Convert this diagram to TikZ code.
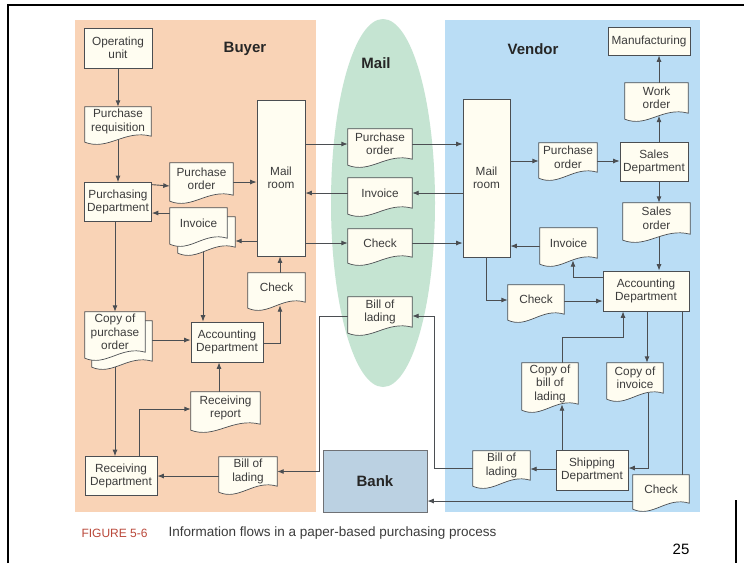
\documentclass[tikz,border=0pt]{standalone}
\usepackage{fontspec}
\setmainfont{Liberation Sans}
\usepackage{tikz}
\usepackage{xcolor}
\usetikzlibrary{positioning, arrows.meta, calc}
\definecolor{buyerbg}{RGB}{249, 211, 182}
\definecolor{vendorbg}{RGB}{186, 221, 245}
\definecolor{mailbg}{RGB}{197, 228, 210}
\definecolor{paper}{RGB}{255, 253, 241}
\definecolor{edgeclr}{RGB}{75, 78, 82}
\definecolor{ink}{RGB}{60, 60, 60}
\definecolor{bankbg}{RGB}{187, 209, 226}
\definecolor{capred}{RGB}{186, 72, 58}
\pgfdeclarelayer{regions}
\pgfdeclarelayer{background}
\pgfsetlayers{regions,background,main}
% outline of a paper sheet with a wavy lower edge, shifted by (#2,#3)
\newcommand{\docpath}[3]{($(#1.north west)+(#2,#3)$) -- ($(#1.north east)+(#2,#3)$)
  -- ($(#1.south east)+(#2,#3)$)
  .. controls ($(#1.south west)!0.6!(#1.south east)+(#2,#3-7)$)
  and ($(#1.south west)!0.35!(#1.south east)+(#2,#3+15)$)
  .. ($(#1.south west)+(#2,#3+6)$) -- cycle}
\tikzset{
    lbl/.style={font=\fontsize{11.8}{13.5}\selectfont, text=ink, align=center},
    box/.style={lbl, rectangle, draw=edgeclr, fill=paper, line width=0.7pt, inner sep=0.5pt},
    doc/.style={lbl, rectangle, inner sep=0.5pt},
    sheet/.style={draw=edgeclr, fill=paper, line width=0.7pt},
    wh/.style 2 args={minimum width=#1pt, minimum height=#2pt},
    flow/.style={draw=edgeclr, line width=0.9pt, -{Latex[length=6.5pt, width=5pt]}},
    link/.style={draw=edgeclr, line width=0.9pt},
    title/.style={font=\fontsize{15}{17}\selectfont\bfseries, text=black!85}
}

\begin{document}
\begin{tikzpicture}[x=1pt, y=-1pt]
    \useasboundingbox (0,0) rectangle (744,563);
    \begin{pgfonlayer}{regions}
        \fill[white] (0,0) rectangle (744,563);
        \fill[buyerbg] (75,20) rectangle (316,512);
        \fill[vendorbg] (445,20) rectangle (700,512);
        \fill[mailbg] (383,203) ellipse [x radius=52, y radius=184];
    \end{pgfonlayer}
    \draw[line width=2pt] (8,563) -- (8,5) -- (744,5);
    \draw[line width=2pt] (736,500) -- (736,563);

    % Buyer
    \node[title] (buyer) at (245,49) {Buyer};
    \node[box, wh={68}{40}] (opunit) at (118,48) {Operating\\unit};
    \node[doc, wh={66}{29}] (preq) at (118,121.5) {Purchase\\requisition};
    \node[box, wh={67}{39}] (pdept) at (118,202) {Purchasing\\Department};
    \node[doc, wh={63}{32}] (poB) at (201.5,179) {Purchase\\order};
    \node[doc, wh={57}{30}] (invB) at (198.5,223) {Invoice};
    \node[box, wh={48}{156}] (mailB) at (281,178) {Mail\\room};
    \node[doc, wh={57}{29}] (chkB) at (276.5,287.5) {Check};
    \node[doc, wh={60}{40}] (cpoB) at (115,332) {Copy of\\purchase\\order};
    \node[box, wh={72}{40}] (acctB) at (227,342) {Accounting\\Department};
    \node[doc, wh={69}{32}] (rrep) at (225.5,408) {Receiving\\report};
    \node[box, wh={72}{39}] (recvB) at (121,476) {Receiving\\Department};
    \node[doc, wh={58}{29}] (bolB) at (248,471.5) {Bill of\\lading};

    % Mail
    \node[title] (mail) at (376,63) {Mail};
    \node[doc, wh={64}{30}] (poM) at (380,144) {Purchase\\order};
    \node[doc, wh={64}{30}] (invM) at (380,193) {Invoice};
    \node[doc, wh={64}{28}] (chkM) at (380,243) {Check};
    \node[doc, wh={64}{30}] (bolM) at (380,312) {Bill of\\lading};
    \node[title, rectangle, draw=edgeclr!80, fill=bankbg, line width=0.7pt, wh={104}{62}] (bank) at (375,481) {Bank};

    % Vendor
    \node[title] (vendor) at (533,49) {Vendor};
    \node[box, wh={82}{28}] (mfg) at (649,41) {Manufacturing};
    \node[doc, wh={63}{30}] (wo) at (656.5,98) {Work\\order};
    \node[box, wh={47}{158}] (mailV) at (486.5,178) {Mail\\room};
    \node[doc, wh={58}{29}] (poV) at (568,157.5) {Purchase\\order};
    \node[box, wh={68}{39}] (sales) at (654,162) {Sales\\Department};
    \node[doc, wh={67}{31}] (soV) at (656.5,218.5) {Sales\\order};
    \node[doc, wh={57}{30}] (invV) at (568.5,243) {Invoice};
    \node[box, wh={86}{40}] (acctV) at (646,291) {Accounting\\Department};
    \node[doc, wh={56}{29}] (chkV) at (536,299.5) {Check};
    \node[doc, wh={56}{41}] (cbol) at (550,383.5) {Copy of\\bill of\\lading};
    \node[doc, wh={56}{30}] (cinv) at (635,378) {Copy of\\invoice};
    \node[box, wh={72}{40}] (ship) at (592,470) {Shipping\\Department};
    \node[doc, wh={57}{29}] (bolV) at (501.5,465.5) {Bill of\\lading};
    \node[doc, wh={56}{28}] (chkW) at (661,489) {Check};

    % Caption
    \node[anchor=west, font=\fontsize{12}{14}\selectfont, text=capred] (figno) at (78,533) {FIGURE 5-6};
    \node[anchor=west, font=\fontsize{13.5}{15}\selectfont, text=ink, right=14pt of figno] (figtxt) {Information flows in a paper-based purchasing process};
    \node[font=\fontsize{15}{17}\selectfont] (pageno) at (681,549) {25};

    \begin{pgfonlayer}{background}
        % Buyer flows
        \draw[flow] (opunit) -- (preq);
        \draw[flow] (preq) -- (pdept);
        \draw[flow] ([yshift=-2.5pt]pdept.north east) -- ([yshift=-7pt]poB.west);
        \draw[flow] ([yshift=10pt]invB.west) -- ([yshift=-11pt]pdept.east);
        \draw[flow] ([yshift=-3pt]poB.east) -- ([yshift=-4pt]mailB.west);
        \draw[flow] ([yshift=-63pt]mailB.west) -- ([xshift=8pt, yshift=-18pt]invB.east);
        \draw[flow] ([xshift=-3pt]pdept.south) -- (cpoB.north);
        \draw[flow] (cpoB.south) -- ([xshift=-6pt]recvB.north);
        \draw[flow] ([xshift=7pt, yshift=-8pt]cpoB.east) -- ([yshift=2pt]acctB.west);
        \draw[flow] ([xshift=4.5pt]invB.south) -- ([xshift=-24pt]acctB.north);
        \draw[flow] ([yshift=-1pt]acctB.east) -| ([xshift=3.5pt, yshift=-3pt]chkB.south);
        \draw[flow] ([xshift=3.5pt]chkB.north) -- ([xshift=-1pt]mailB.south);
        \draw[flow] ([xshift=-6.5pt]rrep.north) -- ([xshift=-8pt]acctB.south);
        \draw[flow] ([xshift=18pt]recvB.north) |- ([yshift=-1pt]rrep.west);
        \draw[flow] ([yshift=-4.5pt]bolB.west) -- (recvB.east);

        % Mail flows
        \draw[flow] (mailB.east |- poM) -- (poM);
        \draw[flow] (poM) -- (mailV.west |- poM);
        \draw[flow] (mailV.west |- invM) -- (invM);
        \draw[flow] (invM) -- (mailB.east |- invM);
        \draw[flow] (mailB.east |- chkM) -- (chkM);
        \draw[flow] (chkM) -- (mailV.west |- chkM);
        \draw[flow] ([yshift=-4pt]bolM.west) -- ++(-28,0) |- (bolB.east);
        \draw[flow] ([yshift=-2.5pt]bolV.west) -- ++(-38,0) |- ([yshift=-4pt]bolM.east);
        \draw[flow] ([yshift=-12pt]chkW.west) -- ([yshift=-20pt]bank.east);

        % Vendor flows
        \draw[flow] ([yshift=17pt]mailV.east) -- ([yshift=-3.5pt]poV.west);
        \draw[flow] ([yshift=-3.5pt]poV.east) -- ([yshift=1pt]sales.west);
        \draw[flow] ([xshift=5pt]sales.north) -- ([xshift=2.5pt, yshift=-2.5pt]wo.south);
        \draw[flow] ([xshift=2.5pt]wo.north) -- ([xshift=10pt]mfg.south);
        \draw[flow] ([xshift=5pt]sales.south) -- ([xshift=2.5pt]soV.north);
        \draw[flow] ([xshift=2.5pt]soV.south) -- ([xshift=13pt]acctV.north);
        \draw[flow] ([yshift=-3pt]invV.west) -- ([yshift=-68pt]mailV.east);
        \draw[flow] ([yshift=14pt]acctV.west) -| ([xshift=4.5pt, yshift=-2pt]invV.south);
        \draw[flow] (mailV.south) |- ([yshift=-0.5pt]chkV.west);
        \draw[flow] ([yshift=-1.5pt]chkV.east) -- ([yshift=-10pt]acctV.west);
        \draw[flow] ([xshift=1pt]acctV.south) -- ([xshift=12pt]cinv.north);
        \draw[flow] ([xshift=13pt]cinv.south) |- ([yshift=2pt]ship.east);
        \draw[flow] ([xshift=-30pt]ship.north) -- ([xshift=12pt]cbol.south);
        \draw[flow] ([xshift=12pt]cbol.north) -- ++(0,-25) -| ([xshift=-23pt]acctV.south);
        \draw[flow] ([yshift=1pt]ship.west) -- ([yshift=-3.5pt]bolV.east);
        \draw[link] ([xshift=36pt]acctV.south) -- ([xshift=21pt]chkW.north);

        % Paper sheets
        \draw[sheet] \docpath{invB}{8}{9};
        \draw[sheet] \docpath{cpoB}{7}{9};
        \foreach \sh in {preq, poB, invB, chkB, cpoB, rrep, bolB, poM, invM, chkM, bolM,
                         wo, soV, poV, invV, chkV, cbol, cinv, bolV, chkW}
            \draw[sheet] \docpath{\sh}{0}{0};
    \end{pgfonlayer}
\end{tikzpicture}
\end{document}
